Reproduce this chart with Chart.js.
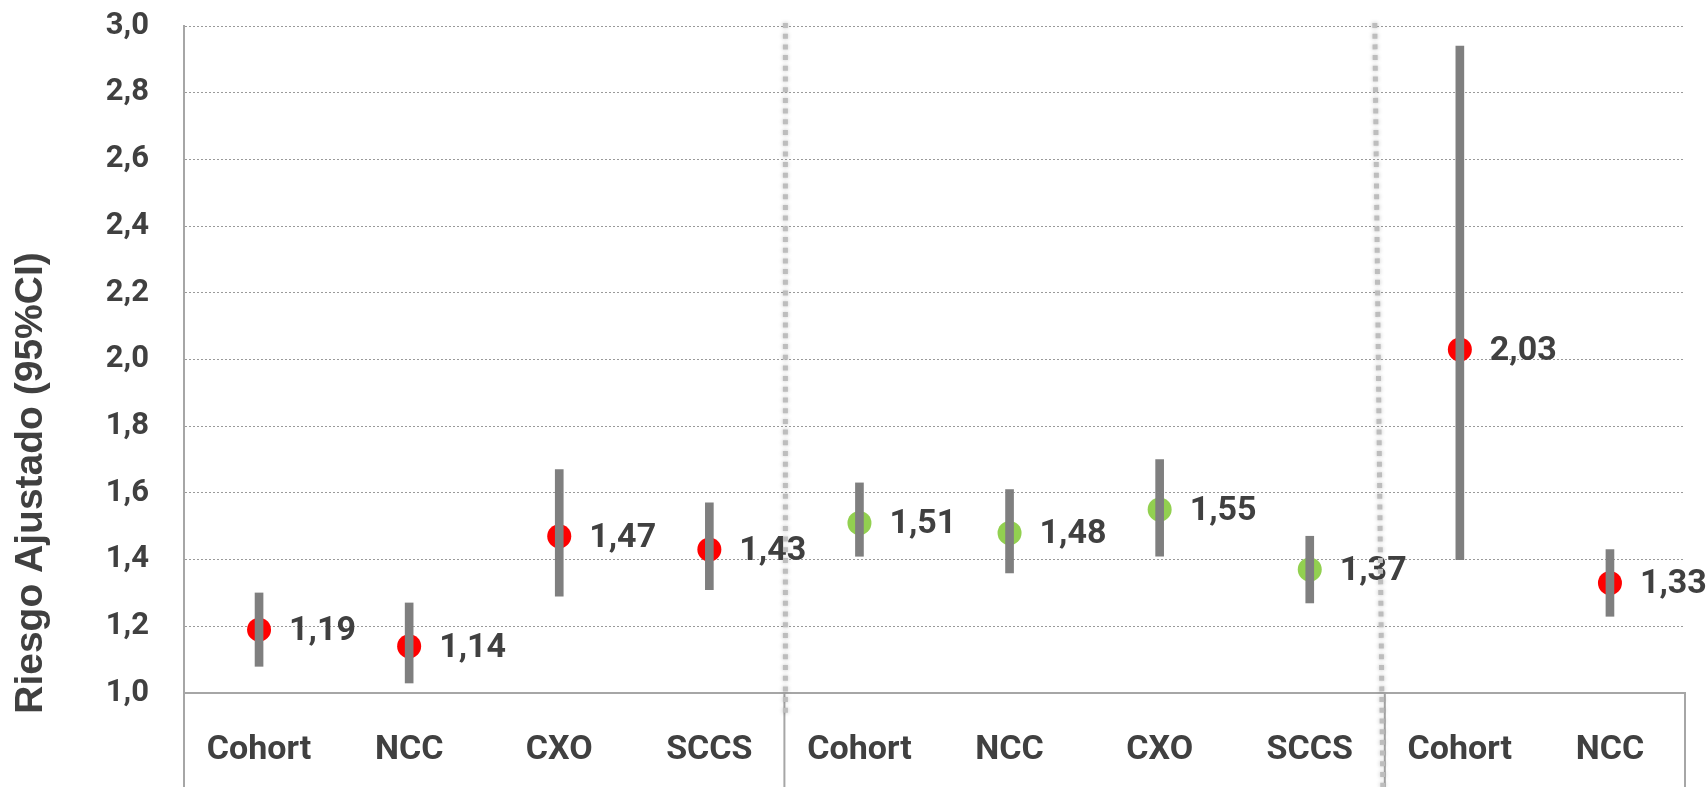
<!DOCTYPE html>
<html lang="es">
<head>
<meta charset="utf-8">
<title>Riesgo ajustado por diseño</title>
<script src="https://cdn.jsdelivr.net/npm/chart.js@4.4.1/dist/chart.umd.min.js"></script>
<style>
  html, body { margin: 0; padding: 0; background: #fff; }
  #caja { width: 1708px; height: 787px; }
</style>
</head>
<body>
<div id="caja"><canvas id="riesgoChart"></canvas></div>
<script>
// Diseños de estudio (tres bloques separados por líneas punteadas)
const disenos = ['Cohort', 'NCC', 'CXO', 'SCCS', 'Cohort', 'NCC', 'CXO', 'SCCS', 'Cohort', 'NCC'];
const bloque = [1, 1, 1, 1, 2, 2, 2, 2, 3, 3];

// Riesgo ajustado e intervalo de confianza al 95%
const riesgo = [1.19, 1.14, 1.47, 1.43, 1.51, 1.48, 1.55, 1.37, 2.03, 1.33];
const icInferior = [1.08, 1.03, 1.29, 1.31, 1.41, 1.36, 1.41, 1.27, 1.40, 1.23];
const icSuperior = [1.30, 1.27, 1.67, 1.57, 1.63, 1.61, 1.70, 1.47, 2.94, 1.43];

const ejeMin = 1.0;
const ejeMax = 3.0;
const ejePaso = 0.2;

const colorBloque = { 1: '#FF0000', 2: '#92D050', 3: '#FF0000' };
const gris = '#7F7F7F';
const texto = '#404040';
const fuente = 'Roboto, "Liberation Sans", sans-serif';
const coma = (v, d) => v.toFixed(d).replace('.', ',');

// Etiquetas de valor a la derecha de cada punto
const etiquetasValor = {
    id: 'etiquetasValor',
    afterDatasetsDraw(chart) {
        const meta = chart.getDatasetMeta(1);
        const c = chart.ctx;
        c.save();
        c.font = 'bold 34px ' + fuente;
        c.fillStyle = texto;
        c.textAlign = 'left';
        c.textBaseline = 'middle';
        meta.data.forEach((p, i) => {
            c.fillText(coma(riesgo[i], 2), p.x + 30, p.y + 2);
        });
        c.restore();
    }
};

// Cajas del eje de categorías, separadores de bloque y título vertical
const marco = {
    id: 'marco',
    afterDraw(chart) {
        const c = chart.ctx;
        const x = chart.scales.x;
        const area = chart.chartArea;
        const fondo = chart.height;
        const limite = k => (x.getPixelForValue(k - 1) + x.getPixelForValue(k)) / 2;

        // líneas verticales del eje de categorías
        c.save();
        c.strokeStyle = '#A6A6A6';
        c.lineWidth = 2;
        const bordes = [area.left, limite(4), limite(8), area.right];
        bordes.forEach(bx => {
            c.beginPath();
            c.moveTo(bx, area.bottom);
            c.lineTo(bx, fondo);
            c.stroke();
        });
        c.restore();

        // separadores punteados entre bloques
        c.save();
        c.strokeStyle = '#BDBDBD';
        c.lineWidth = 5;
        c.setLineDash([5, 5.7]);
        c.shadowColor = 'rgba(0,0,0,0.25)';
        c.shadowBlur = 4;
        const sep = [
            { x0: limite(4) + 1, x1: limite(4) + 1, y1: area.bottom + 22 },
            { x0: limite(8) - 10, x1: limite(8) - 2, y1: fondo }
        ];
        sep.forEach(s => {
            c.beginPath();
            c.moveTo(s.x0, area.top - 3);
            c.lineTo(s.x1, s.y1);
            c.stroke();
        });
        c.restore();

        // título del eje Y
        c.save();
        c.translate(31, 483);
        c.rotate(-Math.PI / 2);
        c.font = 'bold 39px "Liberation Sans", Arial, sans-serif';
        c.fillStyle = texto;
        c.textAlign = 'center';
        c.textBaseline = 'middle';
        c.fillText('Riesgo Ajustado (95%CI)', 0, 0);
        c.restore();
    }
};

const ctx = document.getElementById('riesgoChart').getContext('2d');

new Chart(ctx, {
    data: {
        labels: disenos,
        datasets: [
            {
                type: 'bar',
                label: 'IC 95%',
                data: disenos.map((_, i) => [icInferior[i], icSuperior[i]]),
                backgroundColor: gris,
                barThickness: 8,
                order: 0
            },
            {
                type: 'line',
                label: 'Riesgo ajustado',
                data: riesgo,
                showLine: false,
                pointRadius: 12,
                pointHoverRadius: 12,
                pointBorderWidth: 0,
                pointBackgroundColor: bloque.map(b => colorBloque[b]),
                order: 1
            }
        ]
    },
    options: {
        responsive: true,
        maintainAspectRatio: false,
        animation: false,
        layout: { padding: { top: 26, right: 23, bottom: 0, left: 0 } },
        plugins: {
            legend: { display: false },
            tooltip: { enabled: false }
        },
        scales: {
            x: {
                grid: { display: false, drawTicks: false },
                border: { display: true, color: '#A6A6A6', width: 2 },
                ticks: {
                    color: texto,
                    font: { family: fuente, size: 34, weight: 'bold' },
                    padding: 37,
                    maxRotation: 0,
                    autoSkip: false
                },
                afterFit(scale) {
                    scale.height = 94;
                    scale.paddingLeft = 0;
                    scale.paddingRight = 0;
                }
            },
            y: {
                min: ejeMin,
                max: ejeMax,
                grid: { color: '#9A9A9A', lineWidth: 1, drawTicks: false },
                border: { display: true, color: '#A6A6A6', width: 2, dash: [2, 2] },
                ticks: {
                    stepSize: ejePaso,
                    color: texto,
                    padding: 35,
                    font: { family: fuente, size: 31, weight: 'bold' },
                    callback: v => coma(v, 1)
                },
                afterFit(scale) {
                    scale.width = 184;
                    scale.paddingTop = 0;
                    scale.paddingBottom = 0;
                }
            }
        }
    },
    plugins: [etiquetasValor, marco]
});
</script>
</body>
</html>
